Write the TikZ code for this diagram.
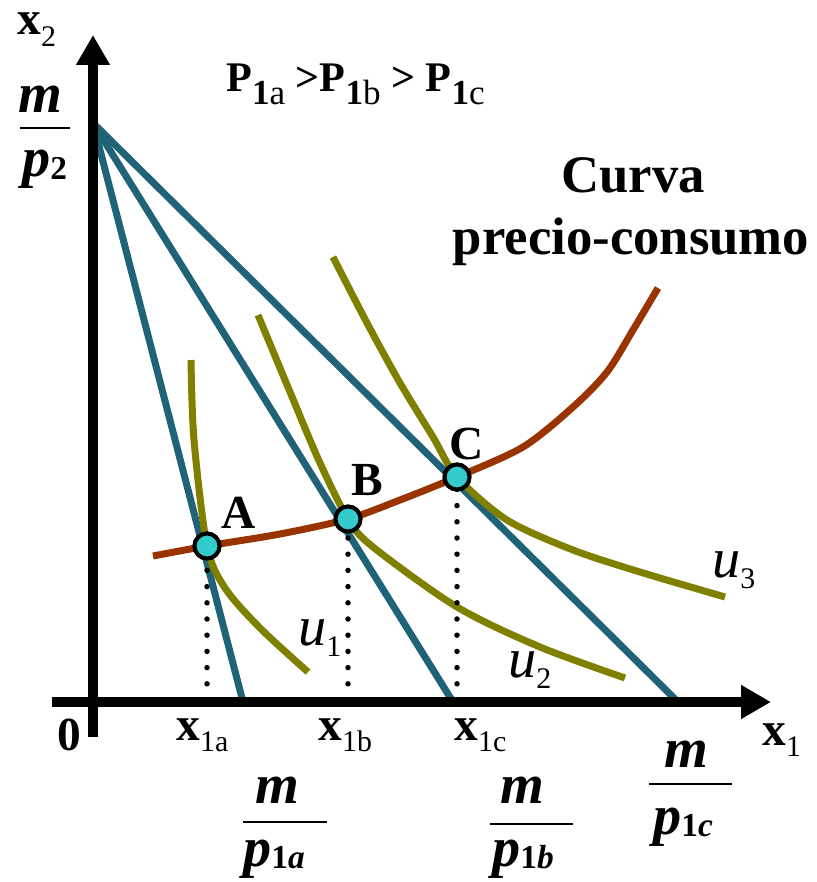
\documentclass[tikz,border=0pt]{standalone}
\usepackage{fontspec}
\setmainfont{Liberation Serif}
\usetikzlibrary{arrows.meta,positioning,calc}

\definecolor{budgetblue}{RGB}{32,98,120}
\definecolor{utilolive}{RGB}{128,128,0}
\definecolor{pccbrown}{RGB}{153,51,0}
\definecolor{optcyan}{RGB}{51,204,204}

\newcommand{\lsub}[1]{\raisebox{-6.5pt}{\fontsize{17}{17}\selectfont\mdseries\upshape #1}}
\newcommand{\tsub}[1]{\raisebox{-7pt}{\fontsize{20}{20}\selectfont\bfseries 1\mdseries #1}}
\newcommand{\psub}[1]{\raisebox{-1.5pt}{\fontsize{19}{19}\selectfont\bfseries\upshape #1}}

\tikzset{
  lbl/.style={inner sep=0pt, font=\fontsize{27}{30}\selectfont\bfseries},
  mlbl/.style={inner sep=0pt, font=\fontsize{32}{34}\selectfont\bfseries\itshape},
  ulbl/.style={inner sep=0pt, font=\fontsize{32}{34}\selectfont\itshape},
  budget/.style={draw=budgetblue, line width=1.4mm},
  indif/.style={draw=utilolive, line width=1.4mm},
  pcc/.style={draw=pccbrown, line width=1.4mm},
  optpt/.style={circle, draw=black, fill=optcyan, line width=0.8mm, minimum size=5mm, inner sep=0pt},
  projdot/.style={fill=black},
  axis/.style={line width=2mm, -{Triangle[length=6mm,width=6.4mm]}},
  fracbar/.style={line width=0.3mm},
}

\begin{document}
\begin{tikzpicture}[x=0.2mm, y=-0.2mm]
        \useasboundingbox (0,0) rectangle (817,882);

        \coordinate (O) at (93,702);
        \coordinate (xstart) at (52,702);
        \coordinate (xend) at (771,702);
        \coordinate (ystart) at (93,737);
        \coordinate (yend) at (93,35);
        \coordinate (inty) at (93,123);
        \coordinate (inta) at (243,702);
        \coordinate (intb) at (453,702);
        \coordinate (intc) at (678,702);

        % rectas de presupuesto
        \draw[budget] (inty) -- (inta);
        \draw[budget] (inty) -- (intb);
        \draw[budget] (inty) -- (intc);

        % curvas de indiferencia
        \draw[indif] plot[smooth] coordinates {(191,360) (194,440) (207,546) (225,588) (260,628) (308,672)};
        \draw[indif] plot[smooth] coordinates {(258,315) (290,392) (320,463) (348,519) (373,547) (457,607) (540,647) (625,678)};
        \draw[indif] plot[smooth] coordinates {(333,257) (367,323) (400,383) (433,437) (457,477) (507,520) (573,550) (640,572) (725,597)};

        % curva precio-consumo
        \draw[pcc] plot[smooth] coordinates {(153,556) (207,546) (280,534) (348,519) (400,500) (457,477) (523,447) (573,407) (607,372) (633,330) (658,288)};

        \node[optpt] (A) at (207,546) {};
        \node[optpt] (B) at (348,519) {};
        \node[optpt] (C) at (457,477) {};

        % lineas de puntos
        \foreach \p/\n in {A/8, B/10, C/13}
          \foreach \j in {0,...,\n}
            \fill[projdot] ($(\p |- O)+(0,-2-\j*16.2)$) circle (0.55mm);

        \draw[axis] (xstart) -- (xend);
        \draw[axis] (ystart) -- (yend);

        \node[optpt] at (A) {};
        \node[optpt] at (B) {};
        \node[optpt] at (C) {};

        \node[lbl, anchor=base] (labA) at (239,528) {A};
        \node[lbl, anchor=base] (labB) at (367,495) {B};
        \node[lbl, anchor=base] (labC) at (467,459) {C};

        \node[ulbl, anchor=base west] (u1) at (298,645) {u\lsub{1}};
        \node[ulbl, anchor=base west] (u2) at (508,677) {u\lsub{2}};
        \node[ulbl, anchor=base west] (u3) at (712,577) {u\lsub{3}};

        \node[lbl, anchor=base west, font=\fontsize{24}{28}\selectfont\bfseries] (title) at (226,92) {P\tsub{a} >P\tsub{b} > P\tsub{c}};
        \node[lbl, anchor=base, font=\fontsize{30}{35}\selectfont\bfseries] (curva) at (633,193) {Curva};
        \node[lbl, anchor=base, font=\fontsize{30}{35}\selectfont\bfseries] (precio) at (631,255) {precio-consumo};

        \node[lbl, anchor=base west] (x2) at (17,35) {x\lsub{2}};
        \node[lbl, anchor=base west] (x1) at (762,745) {x\lsub{1}};
        \node[lbl, anchor=base] (zero) at (69,750) {0};
        \node[lbl, anchor=base west] (x1a) at (176,740) {x\lsub{1a}};
        \node[lbl, anchor=base west] (x1b) at (318,740) {x\lsub{1b}};
        \node[lbl, anchor=base west] (x1c) at (454,740) {x\lsub{1c}};

        % m/p2
        \node[mlbl, anchor=base] (m2) at (40,113) {m};
        \draw[fracbar] (20,128) -- (70,128);
        \node[mlbl, anchor=base west] (p2) at (22,177) {p\psub{2}};
        % m/p1a
        \node[mlbl, anchor=base] (m1a) at (277,803) {m};
        \draw[fracbar] (243,822) -- (327,822);
        \node[mlbl, anchor=base west] (p1a) at (243,866) {p\psub{1\textit{a}}};
        % m/p1b
        \node[mlbl, anchor=base] (m1b) at (522,803) {m};
        \draw[fracbar] (490,824) -- (573,824);
        \node[mlbl, anchor=base west] (p1b) at (492,866) {p\psub{1\textit{b}}};
        % m/p1c
        \node[mlbl, anchor=base] (m1c) at (686,767) {m};
        \draw[fracbar] (649,784) -- (732,784);
        \node[mlbl, anchor=base west] (p1c) at (653,834) {p\psub{1\textit{c}}};
\end{tikzpicture}
\end{document}
